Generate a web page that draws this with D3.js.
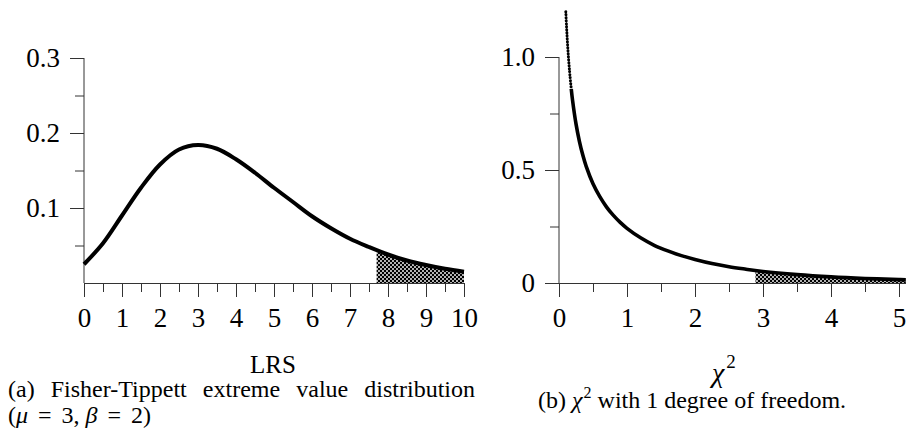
<!DOCTYPE html>
<html>
<head>
<meta charset="utf-8">
<script src="https://cdn.jsdelivr.net/npm/d3@7"></script>
<style>
  body { margin: 0; background: #fff; }
  svg { display: block; font-family: "Liberation Serif", "Times New Roman", serif; }
  .tick text { font-size: 27px; fill: #000; font-family: "Liberation Serif", "Times New Roman", serif; }
  .tick line, .domain { stroke: #333; }
</style>
</head>
<body>
<div id="chart"></div>
<script>
// Fisher-Tippett (mu=3, beta=2) density
const lrsX = [0, 0.5, 1, 1.5, 2, 2.5, 3, 3.5, 4, 4.5, 5, 5.5, 6, 6.5, 7, 7.5, 8, 8.5, 9, 9.5, 10];
const lrsY = [0.025, 0.053, 0.090, 0.127, 0.158, 0.178, 0.184, 0.179, 0.165, 0.147, 0.127, 0.108, 0.089, 0.073, 0.059, 0.048, 0.038, 0.030, 0.024, 0.019, 0.015];
const lrsCut = 7.7;

// chi-square, 1 dof
const chiX = [0.10, 0.11, 0.12, 0.13, 0.14, 0.15, 0.16, 0.18, 0.20, 0.25, 0.30, 0.35, 0.40, 0.5, 0.6, 0.7, 0.8, 0.9, 1.0, 1.2, 1.4, 1.6, 1.8, 2.0, 2.25, 2.5, 2.75, 3.0, 3.5, 4.0, 4.5, 5.0, 5.1];
const chiY = [1.200, 1.138, 1.085, 1.037, 0.994, 0.956, 0.921, 0.859, 0.807, 0.704, 0.627, 0.566, 0.516, 0.439, 0.382, 0.336, 0.299, 0.268, 0.242, 0.200, 0.167, 0.142, 0.121, 0.104, 0.086, 0.072, 0.061, 0.051, 0.037, 0.027, 0.020, 0.015, 0.014];
const chiCut = 2.89;

// ticks
const lrsMajor = [0, 1, 2, 3, 4, 5, 6, 7, 8, 9, 10];
const lrsMinor = [0.5, 1.5, 2.5, 3.5, 4.5, 5.5, 6.5, 7.5, 8.5, 9.5];
const lrsYMajor = [0.1, 0.2, 0.3];
const lrsYMinor = [0.05, 0.15, 0.25];
const chiMajor = [0, 1, 2, 3, 4, 5];
const chiMinor = [0.5, 1.5, 2.5, 3.5, 4.5];
const chiYMajor = [0, 0.5, 1.0];
const chiYMinor = [0.25, 0.75];

const W = 906, H = 433;
const serif = '"Liberation Serif", "Times New Roman", serif';

const svg = d3.select("#chart")
  .append("svg")
  .attr("width", W)
  .attr("height", H);

// dotted hatch used for the tail areas
const pat = svg.append("defs").append("pattern")
  .attr("id", "hatch")
  .attr("patternUnits", "userSpaceOnUse")
  .attr("width", 4)
  .attr("height", 4);
pat.append("rect").attr("width", 4).attr("height", 4).attr("fill", "#000");
pat.append("circle").attr("cx", 1).attr("cy", 1).attr("r", 0.95).attr("fill", "#fff");
pat.append("circle").attr("cx", 3).attr("cy", 3).attr("r", 0.95).attr("fill", "#fff");

function drawPanel(opt) {
  const g = svg.append("g");
  const x = opt.x, y = opt.y;
  const pts = opt.xs.map((v, i) => ({ x: v, y: opt.ys[i] }));
  const crv = d3.curveCatmullRom.alpha(0.5);

  // shaded tail
  const clipId = "clip-" + opt.name;
  svg.select("defs").append("clipPath").attr("id", clipId)
    .append("rect")
    .attr("x", x(opt.cut))
    .attr("y", 0)
    .attr("width", W - x(opt.cut))
    .attr("height", y(0));
  g.append("path")
    .datum(pts)
    .attr("clip-path", `url(#${clipId})`)
    .attr("fill", "url(#hatch)")
    .attr("d", d3.area()
      .curve(crv)
      .x(d => x(d.x))
      .y0(y(0))
      .y1(d => y(d.y)));

  // x axis
  g.append("g")
    .attr("transform", `translate(0,${y(0)})`)
    .call(d3.axisBottom(x).tickValues(opt.xMinor).tickSize(9).tickSizeOuter(0).tickFormat(""))
    .call(a => a.select(".domain").remove());
  g.append("g")
    .attr("transform", `translate(0,${y(0)})`)
    .call(d3.axisBottom(x).tickValues(opt.xMajor).tickSize(14).tickSizeOuter(0).tickPadding(11).tickFormat(d3.format("d")))
    .attr("font-family", serif);

  // y axis
  g.append("g")
    .attr("transform", `translate(${x(0)},0)`)
    .call(d3.axisLeft(y).tickValues(opt.yMinor).tickSize(9).tickSizeOuter(0).tickFormat(""))
    .call(a => a.select(".domain").remove());
  g.append("g")
    .attr("transform", `translate(${x(0)},0)`)
    .call(d3.axisLeft(y).tickValues(opt.yMajor).tickSize(14).tickSizeOuter(0).tickPadding(10).tickFormat(opt.yFmt))
    .attr("font-family", serif)
    .call(a => a.select(".domain").attr("d", `M0,${y(opt.yTop)}V${y(0)}`));

  const line = d3.line().curve(crv).x(d => x(d.x)).y(d => y(d.y));
  const solid = pts.filter(d => d.x >= opt.dotUntil);
  const dotted = pts.filter(d => d.x <= opt.dotUntil);
  if (dotted.length > 1) {
    g.append("path").datum(dotted)
      .attr("fill", "none").attr("stroke", "#000")
      .attr("stroke-width", 3)
      .attr("stroke-linecap", "round")
      .attr("stroke-dasharray", "0.1 2.9")
      .attr("d", line);
  }
  g.append("path").datum(solid)
    .attr("fill", "none").attr("stroke", "#000")
    .attr("stroke-width", opt.lw)
    .attr("d", line);
  return g;
}

const xL = d3.scaleLinear().domain([0, 10]).range([84, 464]);
const yL = d3.scaleLinear().domain([0, 0.3]).range([283, 58]);
drawPanel({
  name: "lrs", x: xL, y: yL, xs: lrsX, ys: lrsY, cut: lrsCut,
  xMajor: lrsMajor, xMinor: lrsMinor, yMajor: lrsYMajor, yMinor: lrsYMinor,
  yTop: 0.3, yFmt: d3.format(".1f"), dotUntil: 0, lw: 4
});

const xR = d3.scaleLinear().domain([0, 5.1]).range([559, 905.8]);
const yR = d3.scaleLinear().domain([0, 1]).range([283, 57]);
drawPanel({
  name: "chi", x: xR, y: yR, xs: chiX, ys: chiY, cut: chiCut,
  xMajor: chiMajor, xMinor: chiMinor, yMajor: chiYMajor, yMinor: chiYMinor,
  yTop: 1.0, yFmt: d => d === 0 ? "0" : d3.format(".1f")(d), dotUntil: 0.18, lw: 3.6
});

// axis titles
svg.append("text").attr("x", 273).attr("y", 373)
  .attr("text-anchor", "middle").attr("font-size", 25).text("LRS");

const chiT = svg.append("text").attr("x", 712).attr("y", 382).attr("font-size", 28);
chiT.append("tspan").attr("font-style", "italic").text("χ");
chiT.append("tspan").attr("font-size", 19).attr("dy", -14).attr("dx", 2).text("2");

// captions
const capSize = 24;
const capWords = ["(a)", "Fisher-Tippett", "extreme", "value", "distribution"];
const capL = 8, capR = 475;
const tmp = capWords.map(w => svg.append("text").attr("font-size", capSize).attr("y", 397).text(w));
const widths = tmp.map(t => t.node().getComputedTextLength());
const gap = (capR - capL - d3.sum(widths)) / (capWords.length - 1);
let cx = capL;
tmp.forEach((t, i) => { t.attr("x", cx); cx += widths[i] + gap; });

const cap2 = svg.append("text").attr("x", capL).attr("y", 423).attr("font-size", capSize);
cap2.append("tspan").text("(");
cap2.append("tspan").attr("font-style", "italic").text("μ");
cap2.append("tspan").attr("dx", 10).text("=");
cap2.append("tspan").attr("dx", 10).text("3,");
cap2.append("tspan").attr("dx", 6).attr("font-style", "italic").text("β");
cap2.append("tspan").attr("dx", 10).text("=");
cap2.append("tspan").attr("dx", 10).text("2)");

const capB = svg.append("text").attr("x", 538).attr("y", 408).attr("font-size", capSize);
capB.append("tspan").text("(b) ");
capB.append("tspan").attr("font-style", "italic").text("χ");
capB.append("tspan").attr("font-size", 16).attr("dy", -10).attr("dx", 1).text("2");
capB.append("tspan").attr("dy", 10).text(" with 1 degree of freedom.");
</script>
</body>
</html>
